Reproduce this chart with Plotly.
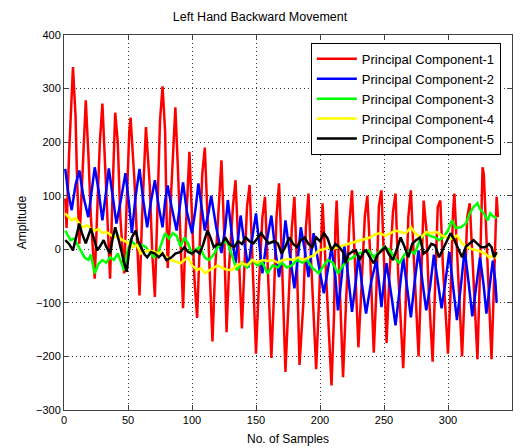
import plotly.graph_objects as go

# ---- data ----
red_x = [1, 2, 4, 6, 7, 9, 10, 12, 14, 16, 17, 19, 21, 24, 26, 28, 30, 32, 34, 36, 38, 40, 42, 44, 47, 49, 51, 52, 55, 57,
         59, 61, 63, 64, 67, 69, 71, 73, 75, 77, 79, 80, 81, 84, 86, 87, 89, 91, 93, 95, 97, 98, 100, 102, 104, 106, 108, 110,
         112, 114, 116, 118, 121, 123, 125, 127, 129, 132, 134, 136, 139, 141, 143, 145, 147, 150, 152, 155, 157, 159, 162,
         164, 166, 168, 170, 173, 175, 178, 180, 182, 184, 187, 189, 191, 193, 197, 199, 201, 202, 205, 209, 211, 212, 213,
         215, 218, 220, 223, 225, 227, 230, 232, 235, 237, 239, 242, 244, 246, 248, 250, 252, 254, 257, 259, 261, 265, 267,
         269, 271, 273, 277, 279, 281, 283, 285, 288, 290, 292, 294, 296, 300, 302, 304, 305, 307, 311, 313, 315, 317, 319,
         323, 325, 327, 328, 330, 334, 336, 338, 339]
red_y = [95, 40, 180, 300, 340, 250, 150, 10, 120, 230, 278, 180, 60, -55, 60, 200, 272, 170, 40, -55, 110, 255, 200, 60, -45,
         100, 220, 246, 130, 20, -86, 60, 190, 228, 120, -10, -89, 60, 240, 304, 220, 80, -35, 120, 240, 265, 150, 20, -110,
         30, 150, 182, 60, -60, -128, 20, 140, 190, 80, -60, -172, -40, 100, 166, 40, -155, -30, 80, 129, 10, -148, -30, 80,
         120, 0, -195, -80, 60, 98, -20, -203, -90, 60, 123, 0, -229, -120, 40, 98, -30, -216, -100, 40, 104, -20, -224, -110,
         30, 86, -60, -254, -120, 40, 91, -40, -239, -120, 50, 110, 0, -183, -90, 60, 100, 0, -193, -80, 80, 110, -20, -175,
         -60, 70, 104, -40, -222, -100, 60, 110, 0, -200, -60, 91, 40, -80, -210, -60, 79, 91, -30, -195, -80, 73, 104, 0,
         -200, -80, 60, 86, -20, -205, -40, 153, 140, 20, -205, -60, 98, 60]

blue_x = [1, 3, 6, 9, 12, 15, 19, 22, 24, 27, 30, 33, 35, 38, 41, 45, 48, 51, 53, 56, 59, 62, 65, 68, 71, 74, 77, 79, 81,
          84, 88, 91, 93, 96, 100, 103, 105, 108, 110, 113, 115, 119, 123, 126, 128, 131, 134, 136, 138, 141, 144, 147, 150,
          153, 155, 158, 162, 165, 168, 171, 173, 177, 180, 183, 185, 188, 191, 193, 195, 199, 203, 206, 209, 212, 214, 217,
          219, 222, 225, 228, 230, 233, 236, 240, 244, 246, 248, 250, 252, 256, 259, 262, 265, 268, 271, 274, 277, 280, 283,
          286, 289, 292, 295, 298, 301, 304, 307, 310, 313, 316, 319, 322, 325, 328, 330, 333, 335, 337, 338]
blue_y = [150, 110, 73, 120, 147, 100, 60, 120, 153, 110, 54, 110, 151, 100, 48, 100, 142, 80, 30, 100, 150, 90, 41, 90, 129,
          80, 41, 90, 119, 80, 35, 90, 125, 70, 30, 80, 123, 70, 35, 70, 100, 40, -7, 40, 92, 30, -26, 20, 63, 10, -34, 20, 67,
          0, -45, 10, 63, 0, -52, 0, 54, -20, -73, -10, 41, 0, -52, -10, 30, -30, -82, -40, 4, -50, -114, -50, 7, -50, -117,
          -60, -10, -70, -120, -60, -21, -60, -108, -60, -26, -90, -142, -80, -15, -70, -127, -60, -2, -60, -114, -70, -10,
          -60, -110, -60, -5, -70, -132, -70, 0, -60, -125, -70, -15, -70, -120, -60, -21, -60, -100]

green_x = [1, 3, 5, 8, 10, 13, 16, 19, 21, 24, 27, 30, 33, 36, 39, 42, 45, 47, 49, 52, 55, 58, 61, 64, 67, 70, 73, 76, 79,
           82, 85, 88, 91, 94, 97, 100, 103, 106, 110, 113, 117, 120, 123, 127, 131, 135, 139, 143, 147, 151, 155, 159, 163,
           167, 170, 174, 178, 182, 186, 190, 194, 199, 203, 206, 210, 214, 218, 222, 226, 230, 234, 238, 242, 246, 250, 254,
           258, 262, 266, 270, 274, 278, 282, 286, 290, 293, 296, 300, 303, 306, 310, 314, 317, 320, 323, 325, 328, 331, 333,
           335, 337, 338]
green_y = [35, 25, 17, 20, 11, 0, -15, -20, -10, -45, -27, -20, -25, -15, -20, -8, -25, -39, -10, 17, 10, 5, 8, 4, -5, -15,
           -10, 10, 30, 20, 30, 25, 5, 22, 10, -8, 0, 4, -15, -20, -10, 4, 10, 17, -10, -39, -25, -34, -20, -30, -25, -45, -30,
           -34, -25, -34, -30, -20, -25, -20, -35, -45, -30, -20, -25, -45, -30, -20, -15, -8, -5, -2, -15, -5, 4, 0, -15, -26,
           -10, -2, -8, 17, 30, 25, 22, 17, 22, 35, 54, 40, 41, 48, 67, 79, 86, 75, 67, 54, 67, 62, 60, 58]

yellow_x = [1, 3, 6, 9, 12, 15, 18, 21, 24, 27, 30, 33, 36, 39, 42, 45, 48, 51, 54, 57, 60, 63, 66, 70, 73, 76, 80, 84, 87,
            91, 94, 97, 100, 104, 107, 110, 113, 117, 120, 123, 127, 131, 135, 139, 143, 147, 151, 155, 159, 163, 167, 171,
            175, 179, 183, 187, 191, 195, 199, 203, 207, 211, 215, 219, 223, 227, 231, 235, 239, 243, 247, 251, 255, 259, 263,
            267, 271, 275, 279, 283, 287, 291, 295, 299, 303, 307, 311, 315, 319, 323, 326, 329, 332, 335, 337, 338]
yellow_y = [67, 62, 54, 58, 48, 41, 45, 38, 35, 38, 30, 32, 28, 22, 25, 18, 15, 10, 4, 8, -8, -5, -2, -4, -8, -5, -15, -20,
            -22, -26, -20, -15, -30, -39, -35, -45, -40, -34, -30, -34, -38, -39, -30, -26, -30, -20, -25, -20, -22, -20, -25,
            -20, -18, -20, -15, -20, -15, -12, -2, 0, 4, 2, 4, 8, 11, 14, 17, 20, 22, 28, 30, 25, 30, 35, 32, 30, 41, 28, 22,
            32, 30, 32, 26, 22, 20, 26, 11, 4, 0, -2, -5, -8, -15, -12, -15, -8, -15, -20, -26, -15]

black_x = [1, 4, 7, 9, 12, 14, 17, 19, 21, 24, 26, 28, 31, 33, 36, 38, 40, 43, 45, 47, 49, 51, 53, 56, 58, 61, 63, 65, 68,
           71, 74, 77, 80, 84, 87, 91, 94, 97, 100, 103, 106, 109, 112, 114, 117, 120, 123, 126, 129, 133, 136, 139, 142,
           145, 148, 151, 154, 157, 160, 164, 167, 170, 173, 176, 179, 182, 185, 188, 191, 194, 197, 200, 203, 206, 209,
           212, 215, 218, 220, 222, 225, 228, 231, 234, 236, 239, 242, 245, 248, 251, 254, 257, 260, 263, 266, 269, 272,
           275, 278, 281, 284, 287, 290, 293, 296, 299, 302, 305, 308, 311, 314, 317, 320, 323, 326, 329, 332, 334, 336, 338]
black_y = [17, 10, -2, 20, 48, 30, 11, 25, 39, 15, -2, 5, 17, 5, -8, 20, 41, 15, -8, -25, -42, 0, 22, 35, 15, -2, -10, -15,
           -5, -8, -15, -8, -20, -15, -8, -5, 4, -5, -8, -2, -8, 11, 35, 25, 4, 10, 8, 22, 10, 4, 15, 10, 22, 15, 11, 20, 30,
           20, 11, 15, 11, -8, 5, 22, 10, 4, 17, 22, 10, 4, 22, 15, 30, 20, -2, 10, 4, -5, -26, -10, -5, -2, -20, -5, -2, -15,
           -26, -10, -2, 4, -10, -20, 0, 22, 5, -15, 10, 17, 22, -8, -2, 10, 7, -15, 0, 15, 30, 17, 0, -15, 5, 11, 17, 10, 4,
           4, 10, 4, -15, -5]

series = [
    ("Principal Component-1", red_x, red_y, "#ff0000"),
    ("Principal Component-2", blue_x, blue_y, "#0000ff"),
    ("Principal Component-3", green_x, green_y, "#00ff00"),
    ("Principal Component-4", yellow_x, yellow_y, "#ffff00"),
    ("Principal Component-5", black_x, black_y, "#000000"),
]

x_ticks = [0, 50, 100, 150, 200, 250, 300, 350]
y_ticks = [-300, -200, -100, 0, 100, 200, 300, 400]

fig = go.Figure()
for name, xs, ys, col in series:
    fig.add_trace(go.Scatter(x=xs, y=ys, mode="lines", name=name,
                             line=dict(color=col, width=2.5)))

font_family = "Liberation Sans, Arial, sans-serif"
axis_common = dict(
    showline=True, linecolor="#404040", linewidth=1, mirror="ticks",
    ticks="inside", ticklen=5, tickcolor="#404040",
    showgrid=True, gridcolor="#333333", gridwidth=1, griddash="1px,3px",
    zeroline=False, automargin=False,
    tickfont=dict(size=11, color="#000000", family=font_family),
)

fig.update_layout(
    width=520, height=448,
    margin=dict(l=64, r=8, t=35, b=38),
    paper_bgcolor="white", plot_bgcolor="white",
    font=dict(family=font_family, color="#000000", size=12),
    title=dict(text="Left Hand Backward Movement", x=0.5, xanchor="center",
               y=1 - 17 / 448, yanchor="middle", font=dict(size=12.5)),
    showlegend=True,
    legend=dict(x=0.551, y=0.979, xanchor="left", yanchor="top",
                bgcolor="white", bordercolor="#000000", borderwidth=1,
                font=dict(size=13), tracegroupgap=0, itemwidth=40),
)
fig.update_xaxes(range=[0, 350], tickvals=x_ticks, **axis_common,
                 title=dict(text="No. of Samples", standoff=9, font=dict(size=12)))
fig.update_yaxes(range=[-300, 400], tickvals=y_ticks, **axis_common,
                 title=dict(text="Amplitude", standoff=6, font=dict(size=12)))

fig.write_html("out.html")
